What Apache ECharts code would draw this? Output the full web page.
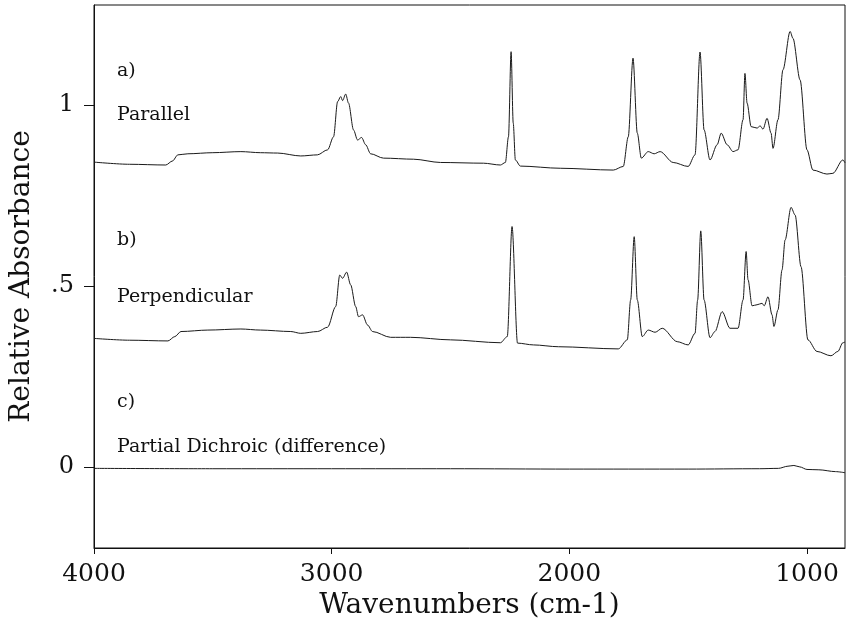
<!DOCTYPE html>
<html>
<head>
<meta charset="utf-8">
<script src="https://cdn.jsdelivr.net/npm/echarts@6/dist/echarts.min.js"></script>
<style>
  html, body { margin: 0; padding: 0; background: #fff; }
  #chart { width: 847px; height: 626px; }
</style>
</head>
<body>
<div id="chart"></div>
<script>
// wavenumbers (cm-1) and absorbance
const parallelWn = [4000, 3850, 3698, 3670, 3647, 3605, 3500, 3382, 3300, 3227, 3130, 3060, 3017, 2992, 2975, 2962, 2954, 2941, 2929, 2908, 2891, 2874, 2857, 2836, 2782, 2655, 2542, 2361, 2290, 2269, 2256, 2245, 2236, 2227, 2206, 2038, 1815, 1773, 1752, 1732, 1714, 1697, 1668, 1643, 1618, 1563, 1500, 1471, 1450, 1433, 1408, 1378, 1361, 1336, 1311, 1290, 1269, 1261, 1252, 1235, 1210, 1197, 1185, 1168, 1151, 1143, 1122, 1101, 1071, 1059, 1029, 1000, 975, 916, 891, 849, 840];
const parallelAbs = [0.842, 0.836, 0.834, 0.845, 0.862, 0.865, 0.868, 0.871, 0.868, 0.867, 0.859, 0.862, 0.876, 0.912, 1.009, 1.023, 1.012, 1.030, 1.005, 0.931, 0.903, 0.910, 0.890, 0.865, 0.853, 0.850, 0.841, 0.839, 0.834, 0.841, 0.912, 1.147, 0.950, 0.848, 0.831, 0.825, 0.820, 0.830, 0.912, 1.129, 0.922, 0.853, 0.871, 0.865, 0.871, 0.841, 0.830, 0.862, 1.146, 0.931, 0.848, 0.890, 0.922, 0.890, 0.871, 0.876, 0.959, 1.087, 1.005, 0.940, 0.936, 0.942, 0.933, 0.963, 0.922, 0.880, 0.959, 1.097, 1.203, 1.184, 1.069, 0.876, 0.820, 0.809, 0.811, 0.848, 0.840];

const perpWn = [4000, 3850, 3689, 3660, 3634, 3521, 3382, 3300, 3172, 3130, 3059, 3017, 2983, 2966, 2954, 2937, 2920, 2899, 2887, 2870, 2849, 2828, 2752, 2668, 2500, 2290, 2261, 2241, 2218, 2151, 2046, 1794, 1756, 1742, 1727, 1714, 1693, 1668, 1639, 1609, 1546, 1500, 1471, 1460, 1447, 1433, 1408, 1387, 1357, 1324, 1290, 1269, 1256, 1248, 1231, 1210, 1189, 1180, 1164, 1147, 1139, 1122, 1105, 1092, 1067, 1050, 1025, 996, 958, 899, 870, 849, 840];
const perpAbs = [0.355, 0.350, 0.348, 0.360, 0.374, 0.378, 0.381, 0.378, 0.374, 0.369, 0.374, 0.386, 0.443, 0.530, 0.521, 0.538, 0.503, 0.443, 0.415, 0.420, 0.392, 0.374, 0.358, 0.358, 0.351, 0.343, 0.360, 0.664, 0.342, 0.337, 0.332, 0.326, 0.351, 0.461, 0.636, 0.461, 0.360, 0.378, 0.372, 0.383, 0.346, 0.337, 0.369, 0.461, 0.652, 0.461, 0.357, 0.374, 0.429, 0.383, 0.383, 0.461, 0.595, 0.517, 0.445, 0.448, 0.452, 0.445, 0.470, 0.420, 0.388, 0.434, 0.544, 0.627, 0.717, 0.696, 0.553, 0.351, 0.319, 0.307, 0.319, 0.343, 0.345];

const diffWn = [4000, 3500, 3000, 2500, 2000, 1500, 1200, 1120, 1080, 1055, 1030, 1000, 950, 880, 840];
const diffAbs = [-0.004, -0.005, -0.005, -0.005, -0.006, -0.006, -0.005, -0.004, 0.002, 0.004, 0.000, -0.007, -0.008, -0.013, -0.016];

const xTicks = [4000, 3000, 2000, 1000];
const yTicks = [0, 0.5, 1];

const pairs = (xs, ys) => xs.map((x, i) => [x, ys[i]]);

const serifFont = "'DejaVu Serif', 'Liberation Serif', serif";

const chart = echarts.init(document.getElementById("chart"), null, { renderer: "canvas" });

const lineSeries = (name, data) => ({
  name: name,
  type: "line",
  data: data,
  showSymbol: false,
  smooth: 0.3,
  smoothMonotone: "x",
  lineStyle: { color: "#1a1a1a", width: 1 },
  z: 3,
});

const note = (text, x, y) => ({
  type: "text",
  x: x,
  y: y,
  style: {
    text: text,
    font: "19px " + serifFont,
    fill: "#111",
    verticalAlign: "middle",
  },
});

chart.setOption({
  animation: false,
  backgroundColor: "#fff",
  grid: {
    left: 93,
    right: 2,
    top: 5,
    bottom: 78,
    show: true,
    borderColor: "#111",
    borderWidth: 1,
  },
  xAxis: {
    type: "value",
    inverse: true,
    min: 840,
    max: 4000,
    name: "Wavenumbers (cm-1)",
    nameLocation: "middle",
    nameGap: 44,
    nameTextStyle: { fontFamily: serifFont, fontSize: 28, color: "#111" },
    axisLine: { show: true, onZero: false, lineStyle: { color: "#111", width: 1 } },
    axisTick: { show: true, length: 6, customValues: xTicks, lineStyle: { color: "#111" } },
    axisLabel: {
      customValues: xTicks,
      margin: 14,
      fontFamily: serifFont,
      fontSize: 25,
      color: "#111",
      formatter: (v) => String(v),
    },
    splitLine: { show: false },
  },
  yAxis: {
    type: "value",
    min: -0.224,
    max: 1.276,
    name: "Relative Absorbance",
    nameLocation: "middle",
    nameGap: 58,
    nameTextStyle: { fontFamily: serifFont, fontSize: 28, color: "#111" },
    axisLine: { show: true, onZero: false, lineStyle: { color: "#111", width: 1 } },
    axisTick: { show: true, length: 10, customValues: yTicks, lineStyle: { color: "#111" } },
    axisLabel: {
      customValues: yTicks,
      margin: 20,
      fontFamily: serifFont,
      fontSize: 24,
      color: "#111",
      formatter: (v) => (v === 0.5 ? ".5" : String(v)),
    },
    splitLine: { show: false },
  },
  series: [
    lineSeries("Parallel", pairs(parallelWn, parallelAbs)),
    lineSeries("Perpendicular", pairs(perpWn, perpAbs)),
    lineSeries("Partial Dichroic (difference)", pairs(diffWn, diffAbs)),
  ],
  graphic: [
    note("a)", 117, 71),
    note("Parallel", 117, 115),
    note("b)", 117, 240),
    note("Perpendicular", 117, 297),
    note("c)", 117, 402),
    note("Partial Dichroic (difference)", 117, 447),
  ],
});
</script>
</body>
</html>
